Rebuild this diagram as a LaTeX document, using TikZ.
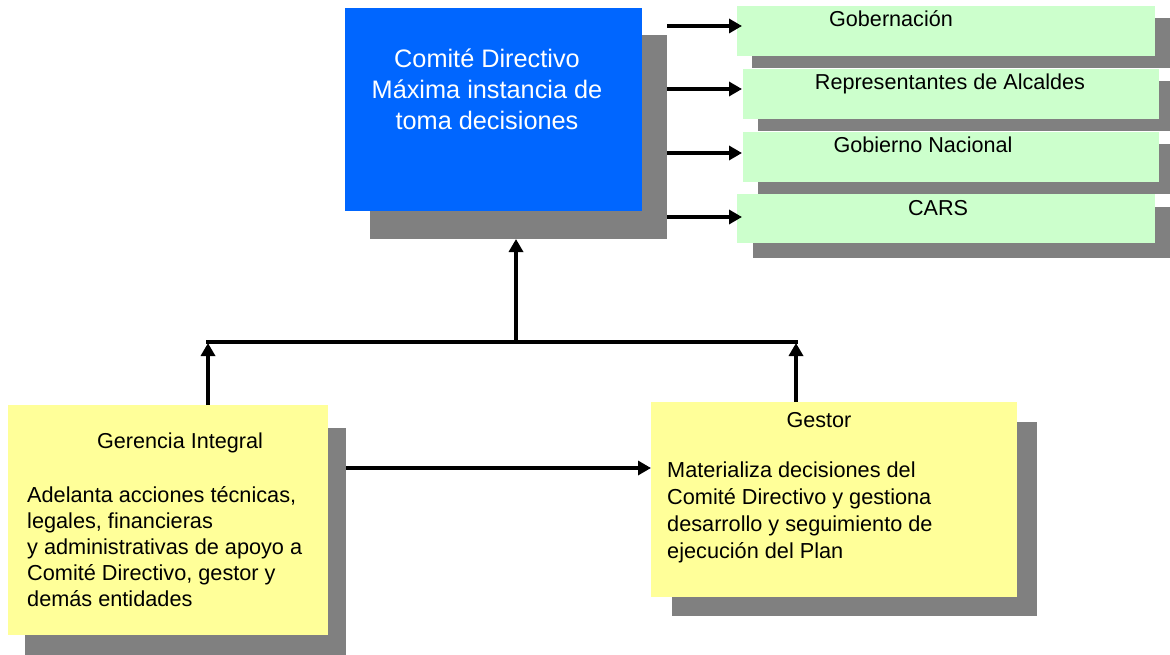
\documentclass[tikz,border=0pt]{standalone}
\usepackage{fontspec}
\setmainfont{Liberation Sans}
\usetikzlibrary{arrows.meta}
\definecolor{cdblue}{HTML}{0066FF}
\definecolor{grn}{HTML}{CCFFCC}
\definecolor{ylw}{HTML}{FFFF99}
\definecolor{shd}{HTML}{808080}
\begin{document}
\begin{tikzpicture}[x=1pt,y=-1pt,
  box/.style={draw=none,inner sep=0pt,outer sep=0pt,anchor=north west},
  shadowbox/.style={box,fill=shd},
  conn/.style={line width=4.2pt},
  arr/.style={line width=4.2pt,-{Triangle[width=14pt,length=13pt]}},
  gtext/.style={inner sep=0pt,anchor=base,font=\fontsize{21.6}{26}\selectfont},
  ytext/.style={inner sep=0pt,anchor=base west,align=left,font=\fontsize{21.7}{26}\selectfont},
]
\useasboundingbox (0,0) rectangle (1170,655);
% shadows
\node[shadowbox,minimum width=297pt,minimum height=204pt] (cdsh) at (370,35) {};
\node[shadowbox,minimum width=418pt,minimum height=50pt] (g1sh) at (752,18) {};
\node[shadowbox,minimum width=412pt,minimum height=50pt] (g2sh) at (758,81) {};
\node[shadowbox,minimum width=412pt,minimum height=50pt] (g3sh) at (758,144) {};
\node[shadowbox,minimum width=417pt,minimum height=51pt] (g4sh) at (753,207) {};
\node[shadowbox,minimum width=321pt,minimum height=227pt] (gish) at (25,428) {};
\node[shadowbox,minimum width=365pt,minimum height=194pt] (gesh) at (672,422) {};
% boxes
\node[box,fill=cdblue,minimum width=297pt,minimum height=203pt] (cd) at (345,8) {};
\node[box,fill=grn,minimum width=418pt,minimum height=50pt] (g1) at (737,6) {};
\node[box,fill=grn,minimum width=416pt,minimum height=50pt] (g2) at (743,69) {};
\node[box,fill=grn,minimum width=416pt,minimum height=50pt] (g3) at (743,132) {};
\node[box,fill=grn,minimum width=418pt,minimum height=49pt] (g4) at (737,194) {};
\node[box,fill=ylw,minimum width=320pt,minimum height=230pt] (gi) at (8,405) {};
\node[box,fill=ylw,minimum width=366pt,minimum height=195pt] (ge) at (651,402) {};
% texts
\node[inner sep=0pt,anchor=base,align=center,text=white,font=\fontsize{25.3}{31}\selectfont] (cdt) at (487,130)
  {Comité Directivo\\Máxima instancia de\\toma decisiones};
\node[gtext] (g1t) at (891,27) {Gobernación};
\node[gtext] (g2t) at (950,90) {Representantes de Alcaldes};
\node[gtext] (g3t) at (923,153) {Gobierno Nacional};
\node[gtext] (g4t) at (938,215) {CARS};
\node[gtext] (git) at (180,448) {Gerencia Integral};
\node[ytext] (gib) at (27,606) {Adelanta acciones técnicas,\\legales, financieras\\y administrativas de apoyo a\\Comité Directivo, gestor y\\demás entidades};
\node[gtext] (get) at (819,427) {Gestor};
\node[ytext,font=\fontsize{21.7}{26.7}\selectfont] (geb) at (667,558) {Materializa decisiones del\\Comité Directivo y gestiona\\desarrollo y seguimiento de\\ejecución del Plan};
% connectors
\coordinate (jl) at (208,342);
\coordinate (jr) at (796,342);
\coordinate (jm) at (516,342);
\coordinate (a1) at (742,26);
\coordinate (a2) at (742,89);
\coordinate (a3) at (742,153);
\coordinate (a4) at (742,217);
\coordinate (hz) at (346,468);
\draw[conn] ([xshift=-2pt]jl) -- ([xshift=2pt]jr);
\draw[arr] (gi.north -| jl) -- ([yshift=-1pt]jl);
\draw[arr] (ge.north -| jr) -- ([yshift=-1pt]jr);
\draw[arr] ([yshift=2pt]jm) -- (cdsh.south -| jm);
\draw[arr] (cdsh.east |- a1) -- (a1);
\draw[arr] (cdsh.east |- a2) -- (a2);
\draw[arr] (cdsh.east |- a3) -- (a3);
\draw[arr] (cdsh.east |- a4) -- (a4);
\draw[arr] (gish.east |- hz) -- (ge.west |- hz);
\end{tikzpicture}
\end{document}
